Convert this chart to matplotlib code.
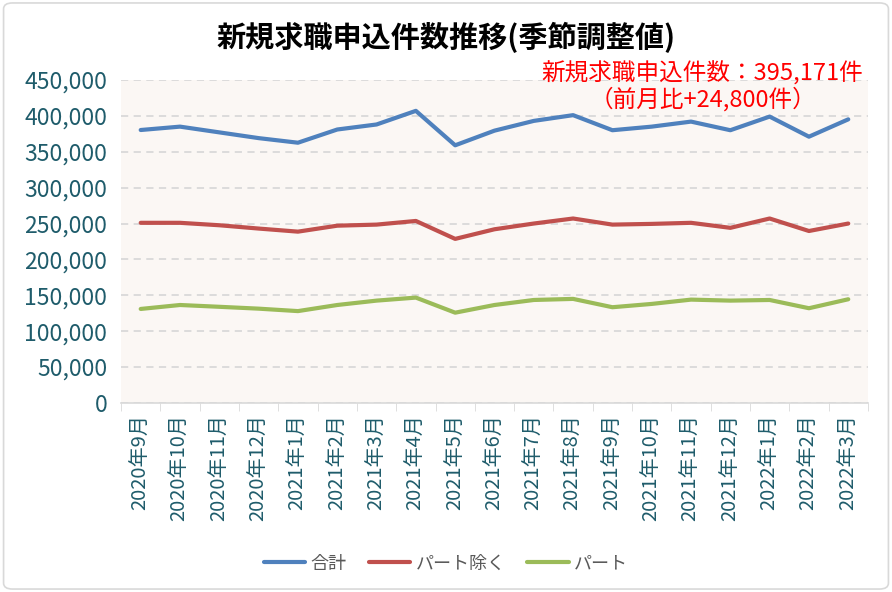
import numpy as np
import matplotlib.pyplot as plt
from matplotlib.patches import FancyBboxPatch
from matplotlib.ticker import FuncFormatter, FixedLocator

plt.rcParams['font.family'] = ['Noto Sans CJK JP', 'DejaVu Sans']

# -------------------------------
# DATA
# -------------------------------
months = ["2020年9月", "2020年10月", "2020年11月", "2020年12月",
          "2021年1月", "2021年2月", "2021年3月", "2021年4月", "2021年5月",
          "2021年6月", "2021年7月", "2021年8月", "2021年9月", "2021年10月",
          "2021年11月", "2021年12月", "2022年1月", "2022年2月", "2022年3月"]

total = [380300, 385000, 377000, 369000, 362600, 381000, 388000, 407000, 359000,
         379400, 393000, 401000, 380000, 385000, 392000, 380000, 399000, 371000, 395171]
excl_part = [251000, 251000, 247600, 243000, 238700, 247000, 248500, 253600, 228600,
             242000, 250000, 257000, 248500, 249500, 251000, 244000, 257000, 239600, 250000]
part = [131000, 136500, 134000, 131400, 128000, 136500, 142600, 146800, 125800,
        136500, 143500, 145000, 133400, 138000, 144000, 142600, 143500, 132000, 144500]

series_names = ["合計", "パート除く", "パート"]
series_colors = ["#4F81BD", "#C0504D", "#9BBB59"]

# -------------------------------
# FIGURE
# -------------------------------
fig = plt.figure(figsize=(8.92, 5.92), dpi=100)
fig.patches.append(FancyBboxPatch((0.004, 0.005), 0.992, 0.99, boxstyle="round,pad=0,rounding_size=0.01",
                                  transform=fig.transFigure, facecolor="none",
                                  edgecolor="#D9D9D9", linewidth=1.2, zorder=-1))

ax = fig.add_axes([0.1357, 0.3193, 0.8373, 0.5456])
ax.set_facecolor("#FBF7F4")

x = np.arange(len(months))
for vals, name, col in zip([total, excl_part, part], series_names, series_colors):
    ax.plot(x, vals, color=col, linewidth=3, label=name, solid_capstyle="round")

ax.set_xlim(-0.5, len(months) - 0.5)
ax.set_ylim(0, 450000)
ax.set_yticks(np.arange(0, 450001, 50000))
ax.yaxis.set_major_formatter(FuncFormatter(lambda v, p: f"{int(v):,}"))
ax.grid(axis="y", color="#D9D9D9", linestyle=(0, (4, 3)), linewidth=1.3)
ax.set_axisbelow(True)

ax.set_xticks(x)
ax.set_xticklabels(months, rotation=90)
ax.xaxis.set_minor_locator(FixedLocator(np.arange(-0.5, len(months), 1)))
ax.tick_params(axis="x", which="major", length=0, pad=8, labelsize=14.5, labelcolor="#1F5C6B")
ax.tick_params(axis="x", which="minor", length=6, color="#D9D9D9")
ax.tick_params(axis="y", length=0, pad=10, labelsize=16.5, labelcolor="#1F5C6B")

for s in ["top", "right", "left"]:
    ax.spines[s].set_visible(False)
ax.spines["bottom"].set_color("#D9D9D9")
ax.spines["bottom"].set_linewidth(1.2)

fig.text(0.5, 0.937, "新規求職申込件数推移(季節調整値)", ha="center", va="center",
         fontsize=21, fontweight="bold", color="black")

fig.text(0.968, 0.897, "新規求職申込件数：395,171件\n（前月比+24,800件）",
         ha="right", va="top", fontsize=17, color="#FF0000", linespacing=1.1,
         multialignment="center")

fig.legend(loc="center", bbox_to_anchor=(0.5, 0.048), ncol=3, frameon=False,
           fontsize=13, labelcolor="#595959", handlelength=2.3, columnspacing=1.2,
           handletextpad=0.3)

plt.savefig("out.png", dpi=100)
plt.close()
